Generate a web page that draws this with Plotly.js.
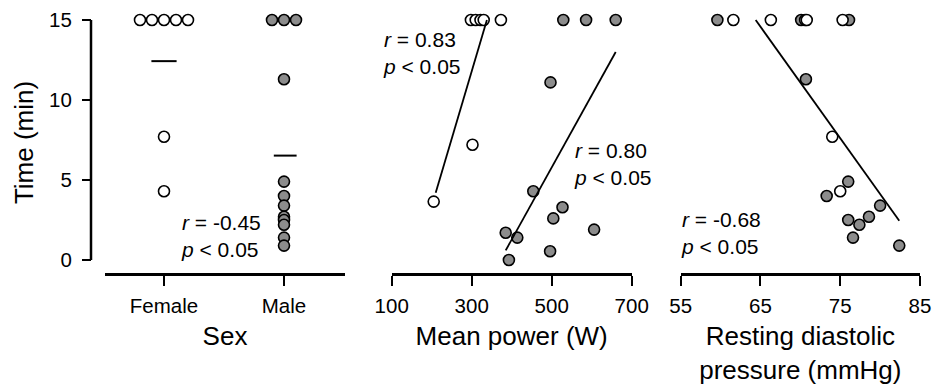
<!DOCTYPE html>
<html>
<head>
<meta charset="utf-8">
<script src="https://cdn.plot.ly/plotly-3.0.1.min.js"></script>
<style>html,body{margin:0;padding:0;background:#fff}#chart{width:938px;height:388px}</style>
</head>
<body>
<div id="chart"></div>
<script>
// ---- data ----
const sexCategories = ['Female', 'Male'];
const femaleTime = [15, 15, 15, 15, 15, 7.7, 4.3];
const maleTime = [15, 15, 15, 11.3, 4.9, 4.0, 3.4, 2.7, 2.5, 2.2, 1.4, 0.9];

const femalePowerW = [298, 310, 322, 330, 373, 302, 205];
const femalePowerTime = [15, 15, 15, 15, 15, 7.2, 3.65];
const malePowerW = [529, 586, 660, 497, 454, 527, 504, 606, 385, 414, 496, 393];
const malePowerTime = [15, 15, 15, 11.1, 4.3, 3.3, 2.6, 1.9, 1.7, 1.4, 0.55, 0.0];
const femalePowerFitW = [210, 338];
const femalePowerFitTime = [4.2, 15.0];
const malePowerFitW = [385, 660];
const malePowerFitTime = [0.6, 13.0];

const femaleDiastolic = [61.6, 66.3, 70.6, 70.8, 75.3, 74.0, 75.0];
const femaleDiastolicTime = [15, 15, 15, 15, 15, 7.7, 4.3];
const maleDiastolic = [59.6, 70.1, 76.1, 70.7, 76.0, 73.3, 80.0, 78.6, 76.0, 77.4, 76.6, 82.4];
const maleDiastolicTime = [15, 15, 15, 11.3, 4.9, 4.0, 3.4, 2.7, 2.5, 2.2, 1.4, 0.9];
const diastolicFitX = [64.4, 82.4];
const diastolicFitTime = [15.0, 2.45];

const yTicks = [0, 5, 10, 15];
const powerTicks = [100, 300, 500, 700];
const diastolicTicks = [55, 65, 75, 85];
const statLabels = ['<i>r</i> = -0.45<br><i>p</i> < 0.05', '<i>r</i> = 0.83<br><i>p</i> < 0.05',
                    '<i>r</i> = 0.80<br><i>p</i> < 0.05', '<i>r</i> = -0.68<br><i>p</i> < 0.05'];

// ---- helpers ----
const W = 938;
const px = v => v / W;
const FONT = 'Liberation Sans, Arial, Helvetica, sans-serif';
const GRAY = '#8c8c8c';

// spread identical values side by side (dot-plot)
function dotX(center, values, step) {
  const counts = {}, seen = {};
  values.forEach(v => counts[v] = (counts[v] || 0) + 1);
  return values.map(v => {
    const n = counts[v]; const i = seen[v] || 0; seen[v] = i + 1;
    return center + (i - (n - 1) / 2) * step;
  });
}
const mean = a => a.reduce((s, v) => s + v, 0) / a.length;

const openMarker = {size: 11, color: '#ffffff', line: {color: '#000', width: 1.6}};
const fillMarker = {size: 11, color: GRAY, line: {color: '#000', width: 1.6}};

const traces = [
  // panel 1: sex
  {x: dotX(1, maleTime, 0.1), y: maleTime, xaxis: 'x', yaxis: 'y', mode: 'markers', marker: fillMarker, cliponaxis: false},
  {x: dotX(0, femaleTime, 0.1), y: femaleTime, xaxis: 'x', yaxis: 'y', mode: 'markers', marker: openMarker, cliponaxis: false},
  {x: [-0.105, 0.105], y: [mean(femaleTime), mean(femaleTime)], xaxis: 'x', yaxis: 'y', mode: 'lines', line: {color: '#000', width: 2}},
  {x: [1 - 0.085, 1 + 0.105], y: [mean(maleTime), mean(maleTime)], xaxis: 'x', yaxis: 'y', mode: 'lines', line: {color: '#000', width: 2}},
  // panel 2: power
  {x: malePowerW, y: malePowerTime, xaxis: 'x2', yaxis: 'y', mode: 'markers', marker: fillMarker, cliponaxis: false},
  {x: femalePowerW, y: femalePowerTime, xaxis: 'x2', yaxis: 'y', mode: 'markers', marker: openMarker, cliponaxis: false},
  {x: femalePowerFitW, y: femalePowerFitTime, xaxis: 'x2', yaxis: 'y', mode: 'lines', line: {color: '#000', width: 1.8}, cliponaxis: false},
  {x: malePowerFitW, y: malePowerFitTime, xaxis: 'x2', yaxis: 'y', mode: 'lines', line: {color: '#000', width: 1.8}, cliponaxis: false},
  // panel 3: diastolic
  {x: maleDiastolic, y: maleDiastolicTime, xaxis: 'x3', yaxis: 'y', mode: 'markers', marker: fillMarker, cliponaxis: false},
  {x: femaleDiastolic, y: femaleDiastolicTime, xaxis: 'x3', yaxis: 'y', mode: 'markers', marker: openMarker, cliponaxis: false},
  {x: diastolicFitX, y: diastolicFitTime, xaxis: 'x3', yaxis: 'y', mode: 'lines', line: {color: '#000', width: 1.8}, cliponaxis: false}
];

const xCommon = {
  showline: true, linewidth: 2.5, linecolor: '#000', ticks: 'outside', ticklen: 10, tickwidth: 2,
  tickcolor: '#000', showgrid: false, zeroline: false, anchor: 'y', fixedrange: true,
  tickfont: {family: FONT, size: 20.5, color: '#000'}, ticklabelstandoff: 3
};
const titleFont = {family: FONT, size: 26, color: '#000'};

const layout = {
  width: 938, height: 388,
  margin: {l: 0, r: 0, t: 12, b: 115, pad: 0},
  paper_bgcolor: '#fff', plot_bgcolor: '#fff',
  showlegend: false,
  font: {family: FONT, color: '#000'},
  xaxis: Object.assign({}, xCommon, {
    domain: [px(105), px(345)], range: [-0.4917, 1.5083],
    tickvals: [0, 1], ticktext: sexCategories,
    title: {text: 'Sex', font: titleFont, standoff: 11}
  }),
  xaxis2: Object.assign({}, xCommon, {
    domain: [px(391.7), px(631.7)], range: [100, 700], tickvals: powerTicks,
    title: {text: 'Mean power (W)', font: titleFont, standoff: 11}
  }),
  xaxis3: Object.assign({}, xCommon, {
    domain: [px(680.7), px(920)], range: [55, 85], tickvals: diastolicTicks,
    title: {text: 'Resting diastolic<br>pressure (mmHg)', font: titleFont, standoff: 11}
  }),
  yaxis: {
    anchor: 'free', position: px(91), range: [-0.8125, 15.5], domain: [0, 1],
    showline: false, ticks: 'outside', ticklen: 9, tickwidth: 2, tickcolor: '#000',
    tickvals: yTicks, showgrid: false, zeroline: false, fixedrange: true,
    tickfont: {family: FONT, size: 20.5, color: '#000'}, ticklabelstandoff: 6,
    title: {text: 'Time (min)', font: titleFont, standoff: 6}
  },
  shapes: [{
    type: 'line', xref: 'paper', yref: 'y', x0: px(91), x1: px(91),
    y0: yTicks[0], y1: yTicks[yTicks.length - 1], line: {color: '#000', width: 2.5}
  }],
  annotations: [
    {xref: 'paper', yref: 'y', x: px(179), y: 1.53, text: statLabels[0]},
    {xref: 'paper', yref: 'y', x: px(380.5), y: 12.94, text: statLabels[1]},
    {xref: 'paper', yref: 'y', x: px(571.5), y: 6.0, text: statLabels[2]},
    {xref: 'paper', yref: 'y', x: px(679), y: 1.71, text: statLabels[3]}
  ].map(a => Object.assign(a, {showarrow: false, xanchor: 'left', yanchor: 'middle', align: 'left',
    font: {family: FONT, size: 21, color: '#000'}}))
};

Plotly.newPlot('chart', traces, layout, {displayModeBar: false, staticPlot: true});
</script>
</body>
</html>
